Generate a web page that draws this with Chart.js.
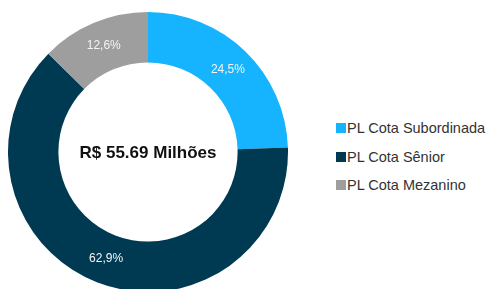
<!DOCTYPE html>
<html>
<head>
<meta charset="utf-8">
<script src="https://cdn.jsdelivr.net/npm/chart.js@4"></script>
<style>
  html, body { margin: 0; padding: 0; background: #fff; overflow: hidden; }
  #wrap { position: relative; width: 494px; height: 289px; }
  #chartBox { position: absolute; left: 0; top: 0; width: 296px; height: 300px; }
  #legend { position: absolute; left: 336px; top: 118px; font-family: "Liberation Sans", Arial, sans-serif; font-size: 14.5px; color: #333; }
  .item { display: flex; align-items: center; height: 20px; margin-bottom: 8.5px; white-space: nowrap; }
  .box { width: 10px; height: 10px; margin-right: 1px; }
</style>
</head>
<body>
<div id="wrap">
  <div id="chartBox"><canvas id="chart"></canvas></div>
  <div id="legend"></div>
</div>
<script>
const labels = ['PL Cota Subordinada', 'PL Cota Sênior', 'PL Cota Mezanino'];
const values = [24.5, 62.9, 12.6];
const colors = ['#16b4ff', '#003a52', '#9e9e9e'];
const centerText = 'R$ 55.69 Milhões';

// Percent labels drawn in the middle of each ring segment
const sliceLabels = {
  id: 'sliceLabels',
  afterDatasetsDraw(chart) {
    const ctx = chart.ctx;
    const meta = chart.getDatasetMeta(0);
    ctx.save();
    ctx.font = '12px "Liberation Sans", Arial, sans-serif';
    ctx.fillStyle = '#f4f4f4';
    ctx.textAlign = 'center';
    ctx.textBaseline = 'middle';
    meta.data.forEach((arc, i) => {
      const pos = arc.tooltipPosition();
      ctx.fillText(values[i].toFixed(1).replace('.', ',') + '%', pos.x, pos.y);
    });
    // center total
    const c = meta.data[0];
    ctx.font = 'bold 17px "Liberation Sans", Arial, sans-serif';
    ctx.fillStyle = '#111';
    ctx.fillText(centerText, c.x, c.y + 1);
    ctx.restore();
  }
};

new Chart(document.getElementById('chart'), {
  type: 'doughnut',
  data: {
    labels,
    datasets: [{
      data: values,
      backgroundColor: colors,
      borderWidth: 0,
    }],
  },
  options: {
    responsive: true,
    maintainAspectRatio: false,
    animation: false,
    cutout: '64%',
    layout: { padding: { left: 8, right: 8, top: 12, bottom: 8 } },
    plugins: {
      legend: { display: false },
      tooltip: { enabled: false },
    },
  },
  plugins: [sliceLabels],
});

// Legend
const legend = document.getElementById('legend');
labels.forEach((label, i) => {
  legend.innerHTML += `<div class="item"><span class="box" style="background:${colors[i]}"></span>${label}</div>`;
});
</script>
</body>
</html>
